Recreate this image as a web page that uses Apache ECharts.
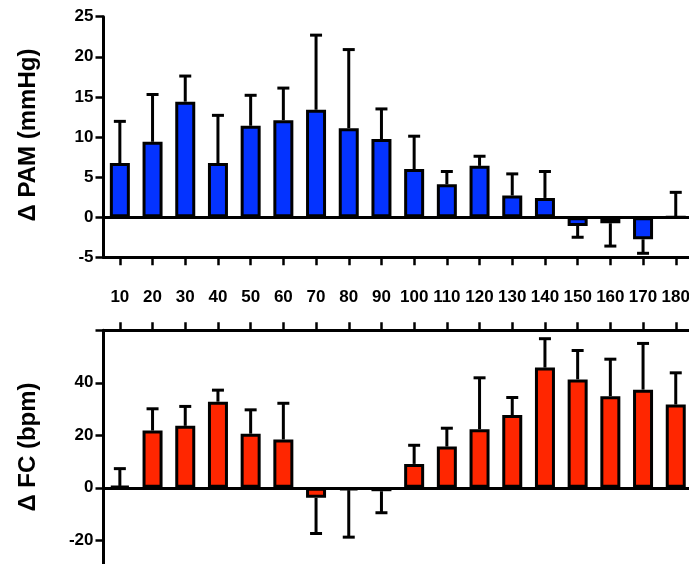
<!DOCTYPE html>
<html>
<head>
<meta charset="utf-8">
<script src="https://cdn.jsdelivr.net/npm/echarts@6/dist/echarts.min.js"></script>
<style>
  html, body { margin: 0; padding: 0; background: #fff; }
  #chart { width: 689px; height: 564px; }
</style>
</head>
<body>
<div id="chart"></div>
<script>
// categories (time points)
const categories = ["10", "20", "30", "40", "50", "60", "70", "80", "90", "100", "110", "120", "130", "140", "150", "160", "170", "180"];

// Δ PAM (mmHg): mean and end of error bar
const pamMean = [6.75, 9.4, 14.4, 6.75, 11.4, 12.1, 13.4, 11.1, 9.75, 6.0, 4.1, 6.4, 2.7, 2.4, -1.1, -0.75, -2.75, 0];
const pamErr = [11.95, 15.3, 17.6, 12.7, 15.2, 16.1, 22.7, 20.9, 13.5, 10.1, 5.7, 7.6, 5.4, 5.7, -2.5, -3.6, -4.5, 3.1];

// Δ FC (bpm): mean and end of error bar
const fcMean = [0.7, 21.8, 23.6, 32.8, 20.6, 18.4, -3.8, -0.9, -1.3, 9.1, 15.7, 22.3, 27.7, 45.8, 41.3, 34.9, 37.4, 31.7];
const fcErr = [7.3, 30.1, 31.0, 37.2, 29.7, 32.2, -17.4, -18.8, -9.5, 16.2, 22.7, 41.9, 34.4, 56.8, 52.3, 49.0, 55.0, 43.8];

const pamTicks = [-5, 25, 5];   // min, max, interval
const fcTicks = [-40, 60, 20];

const font = "'Liberation Sans', Arial, sans-serif";
const black = "#000";

function errRender(params, api) {
  const base = api.coord([api.value(0), api.value(1)]);
  const end = api.coord([api.value(0), api.value(2)]);
  const cap = 6;
  const style = { stroke: black, lineWidth: 3 };
  return {
    type: "group",
    children: [
      { type: "line", shape: { x1: base[0], y1: base[1], x2: end[0], y2: end[1] }, style: style },
      { type: "line", shape: { x1: end[0] - cap, y1: end[1], x2: end[0] + cap, y2: end[1] }, style: style }
    ]
  };
}

const axisLine = { show: true, onZero: false, lineStyle: { color: black, width: 3 } };
const axisTick = { show: true, length: 8, lineStyle: { color: black, width: 2.5 } };
const labelStyle = { color: black, fontFamily: font, fontWeight: "bold", fontSize: 17 };
const titleStyle = { fill: black, font: "bold 24px " + font, textAlign: "center", textVerticalAlign: "middle" };

const chart = echarts.init(document.getElementById("chart"));
chart.setOption({
  animation: false,
  grid: [
    { left: 103.5, top: 16.7, width: 588.6, height: 240.6, outerBoundsMode: "none" },
    { left: 103.5, top: 330.3, width: 588.6, height: 262.5, outerBoundsMode: "none" }
  ],
  xAxis: [
    {
      type: "category", gridIndex: 0, data: categories, position: "bottom",
      axisLine: axisLine, axisTick: Object.assign({ alignWithLabel: true, length: 7 }, axisTick),
      axisLabel: { show: false }, splitLine: { show: false }
    },
    {
      type: "category", gridIndex: 1, data: categories, position: "top",
      axisLine: axisLine, axisTick: Object.assign({ alignWithLabel: true, length: 7 }, axisTick),
      axisLabel: Object.assign({ margin: 24, interval: 0 }, labelStyle), splitLine: { show: false }
    }
  ],
  yAxis: [
    {
      type: "value", gridIndex: 0, min: pamTicks[0], max: pamTicks[1], interval: pamTicks[2],
      axisLine: axisLine, axisTick: axisTick, splitLine: { show: false },
      axisLabel: Object.assign({ margin: 10 }, labelStyle)
    },
    {
      type: "value", gridIndex: 1, min: fcTicks[0], max: fcTicks[1], interval: fcTicks[2],
      axisLine: axisLine, axisTick: axisTick, splitLine: { show: false },
      axisLabel: Object.assign({
        margin: 10,
        formatter: function (v) { return v >= 60 ? "" : String(v); }
      }, labelStyle)
    }
  ],
  graphic: [
    { type: "text", x: 28, y: 135, rotation: Math.PI / 2, style: Object.assign({ text: "Δ PAM (mmHg)" }, titleStyle) },
    { type: "text", x: 28, y: 447, rotation: Math.PI / 2, style: Object.assign({ text: "Δ FC (bpm)" }, titleStyle) }
  ],
  series: [
    {
      type: "bar", xAxisIndex: 0, yAxisIndex: 0, data: pamMean, barWidth: 20,
      itemStyle: { color: "#0433ff", borderColor: black, borderWidth: 3 },
      markLine: { silent: true, symbol: "none", label: { show: false },
        lineStyle: { color: black, width: 3, type: "solid" }, data: [{ yAxis: 0 }] },
      z: 2
    },
    {
      type: "custom", xAxisIndex: 0, yAxisIndex: 0, renderItem: errRender, z: 3,
      data: categories.map((c, i) => [i, pamMean[i], pamErr[i]])
    },
    {
      type: "bar", xAxisIndex: 1, yAxisIndex: 1, data: fcMean, barWidth: 20,
      itemStyle: { color: "#ff2600", borderColor: black, borderWidth: 3 },
      markLine: { silent: true, symbol: "none", label: { show: false },
        lineStyle: { color: black, width: 3, type: "solid" }, data: [{ yAxis: 0 }] },
      z: 2
    },
    {
      type: "custom", xAxisIndex: 1, yAxisIndex: 1, renderItem: errRender, z: 3,
      data: categories.map((c, i) => [i, fcMean[i], fcErr[i]])
    }
  ]
});
</script>
</body>
</html>
